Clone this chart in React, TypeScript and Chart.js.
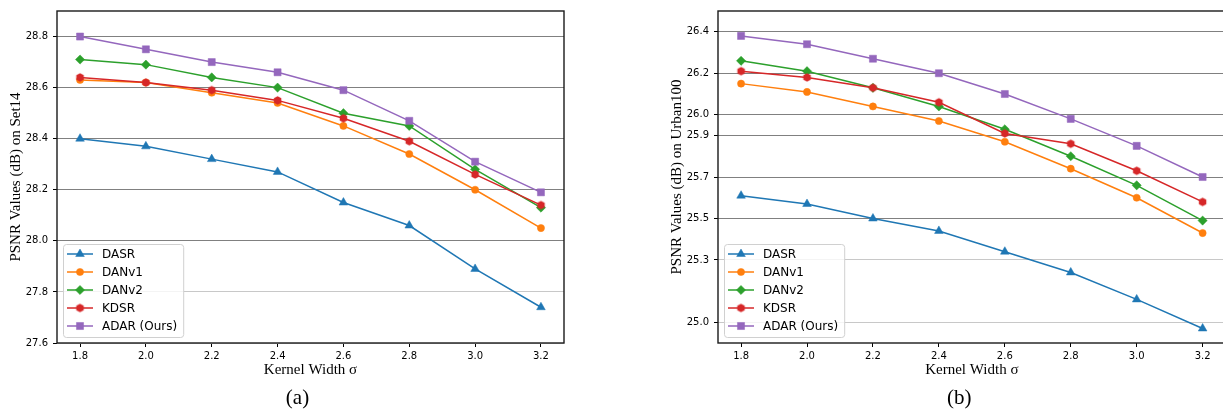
import React, { useEffect, useRef } from "react";
import { Chart, registerables } from "chart.js";
import { drawPoint } from "chart.js/helpers";

Chart.register(...registerables);

// ---------------- data ----------------
const kernelWidths = [1.8, 2.0, 2.2, 2.4, 2.6, 2.8, 3.0, 3.2];
const seriesNames = ["DASR", "DANv1", "DANv2", "KDSR", "ADAR (Ours)"];

const set14DASR = [28.4, 28.37, 28.32, 28.27, 28.15, 28.06, 27.89, 27.74];
const set14DANv1 = [28.63, 28.62, 28.58, 28.54, 28.45, 28.34, 28.2, 28.05];
const set14DANv2 = [28.71, 28.69, 28.64, 28.6, 28.5, 28.45, 28.28, 28.13];
const set14KDSR = [28.64, 28.62, 28.59, 28.55, 28.48, 28.39, 28.26, 28.14];
const set14ADAR = [28.8, 28.75, 28.7, 28.66, 28.59, 28.47, 28.31, 28.19];

const urbanDASR = [25.61, 25.57, 25.5, 25.44, 25.34, 25.24, 25.11, 24.97];
const urbanDANv1 = [26.15, 26.11, 26.04, 25.97, 25.87, 25.74, 25.6, 25.43];
const urbanDANv2 = [26.26, 26.21, 26.13, 26.04, 25.93, 25.8, 25.66, 25.49];
const urbanKDSR = [26.21, 26.18, 26.13, 26.06, 25.91, 25.86, 25.73, 25.58];
const urbanADAR = [26.38, 26.34, 26.27, 26.2, 26.1, 25.98, 25.85, 25.7];

const set14YTicks = [27.6, 27.8, 28.0, 28.2, 28.4, 28.6, 28.8];
const urbanYTicks = [25.0, 25.3, 25.5, 25.7, 25.9, 26.0, 26.2, 26.4];

// ---------------- styles ----------------
const colors = ["#1f77b4", "#ff7f0e", "#2ca02c", "#d62728", "#9467bd"];

function hexagon(color: string, r: number) {
  const c = document.createElement("canvas");
  const s = Math.ceil(r * 2 + 2);
  c.width = s;
  c.height = s;
  const g = c.getContext("2d")!;
  g.fillStyle = color;
  g.beginPath();
  for (let k = 0; k < 6; k++) {
    const a = -Math.PI / 2 + (k * Math.PI) / 3;
    const px = s / 2 + r * Math.cos(a);
    const py = s / 2 + r * Math.sin(a);
    if (k === 0) g.moveTo(px, py);
    else g.lineTo(px, py);
  }
  g.closePath();
  g.fill();
  return c;
}

const markerStyles: any[] = ["triangle", "circle", "rectRot", null, "rect"];
const markerRadius = [5, 3.6, 4.6, 4, 5];

function makeDatasets(series: number[][]) {
  return series.map((vals, i) => ({
    label: seriesNames[i],
    data: vals.map((y, j) => ({ x: kernelWidths[j], y })),
    borderColor: colors[i],
    backgroundColor: colors[i],
    pointBackgroundColor: colors[i],
    pointBorderColor: colors[i],
    pointBorderWidth: 0.5,
    pointStyle: markerStyles[i] ?? hexagon(colors[i], 4.3),
    pointRadius: markerRadius[i],
    borderWidth: 1.5,
    tension: 0,
    order: series.length - i,
  }));
}

const legendBox = {
  id: "legendBox",
  afterDatasetsDraw(chart: any) {
    const { ctx, chartArea } = chart;
    const ds = chart.data.datasets;
    ctx.save();
    ctx.font = '12px "DejaVu Sans"';
    const rowH = 18;
    const maxW = Math.max(...ds.map((d: any) => ctx.measureText(d.label).width));
    const w = 39 + maxW + 6;
    const h = 10 + (ds.length - 1) * rowH + 11;
    const x = chartArea.left + 6;
    const y = chartArea.bottom - 6 - h;
    ctx.beginPath();
    (ctx as any).roundRect(x + 0.5, y + 0.5, w, h, 3);
    ctx.fillStyle = "rgba(255,255,255,0.8)";
    ctx.fill();
    ctx.strokeStyle = "#d0d0d0";
    ctx.lineWidth = 1;
    ctx.stroke();
    ds.forEach((d: any, i: number) => {
      const cy = y + 10 + i * rowH;
      ctx.beginPath();
      ctx.strokeStyle = d.borderColor;
      ctx.lineWidth = 1.5;
      ctx.moveTo(x + 4, cy);
      ctx.lineTo(x + 30, cy);
      ctx.stroke();
      ctx.fillStyle = d.borderColor;
      ctx.strokeStyle = d.borderColor;
      ctx.lineWidth = 0.5;
      drawPoint(ctx, { pointStyle: d.pointStyle, radius: d.pointRadius, rotation: 0, borderWidth: 0.5 } as any, x + 17, cy);
      ctx.fillStyle = "#000";
      ctx.textBaseline = "middle";
      ctx.textAlign = "left";
      ctx.fillText(d.label, x + 39, cy + 0.5);
    });
    ctx.restore();
  },
};

const frame = {
  id: "frame",
  afterDraw(chart: any) {
    const { ctx, chartArea } = chart;
    ctx.save();
    ctx.strokeStyle = "#1a1a1a";
    ctx.lineWidth = 1.4;
    ctx.strokeRect(chartArea.left, chartArea.top, chartArea.right - chartArea.left, chartArea.bottom - chartArea.top);
    ctx.restore();
  },
};

type PanelProps = {
  series: number[][];
  yTicks: number[];
  yMin: number;
  yMax: number;
  darkFrom: number;
  yTitle: string;
  width: number;
  padLeft: number;
  padRight: number;
  yAxisWidth: number;
  yTitlePad: number;
};

function Panel(p: PanelProps) {
  const ref = useRef<HTMLCanvasElement>(null);
  useEffect(() => {
    const chart = new Chart(ref.current!, {
      type: "line",
      data: { datasets: makeDatasets(p.series) as any },
      options: {
        responsive: false,
        animation: false,
        devicePixelRatio: 1,
        layout: { padding: { top: 7, right: p.padRight, bottom: 25, left: p.padLeft } },
        plugins: { legend: { display: false }, tooltip: { enabled: false } },
        scales: {
          x: {
            type: "linear",
            min: 1.73,
            max: 3.27,
            afterBuildTicks: (s: any) => {
              s.ticks = kernelWidths.map((v) => ({ value: v }));
            },
            afterFit: (s: any) => {
              s.height = 44;
            },
            grid: { drawOnChartArea: false, tickLength: 4, tickColor: "#000", tickWidth: 1 },
            border: { display: false },
            ticks: {
              color: "#000",
              padding: 3,
              font: { family: "DejaVu Sans", size: 10 },
              callback: (v: any) => Number(v).toFixed(1),
            },
            title: {
              display: true,
              text: "Kernel Width σ",
              color: "#000",
              font: { family: "Liberation Serif", size: 15 },
              padding: { top: 0, bottom: 8 },
            },
          },
          y: {
            type: "linear",
            min: p.yMin,
            max: p.yMax,
            afterBuildTicks: (s: any) => {
              s.ticks = p.yTicks.map((v) => ({ value: v }));
            },
            afterFit: (s: any) => {
              s.width = p.yAxisWidth;
            },
            grid: {
              color: (c: any) => (c.tick && c.tick.value >= p.darkFrom - 1e-6 ? "#808080" : "#c8c8c8"),
              lineWidth: 1,
              tickLength: 4,
              tickColor: "#000",
              tickWidth: 1,
            },
            border: { display: false },
            ticks: {
              color: "#000",
              padding: 5,
              font: { family: "DejaVu Sans", size: 10 },
              callback: (v: any) => Number(v).toFixed(1),
            },
            title: {
              display: true,
              text: p.yTitle,
              color: "#000",
              font: { family: "Liberation Serif", size: 15 },
              padding: { top: p.yTitlePad, bottom: 0 },
            },
          },
        },
      },
      plugins: [legendBox, frame],
    });
    return () => chart.destroy();
  }, []);
  return <canvas ref={ref} width={p.width} height={412} style={{ width: p.width, height: 412, display: "block" }} />;
}

const captionStyle: React.CSSProperties = {
  position: "absolute",
  top: 387,
  width: 100,
  textAlign: "center",
  fontFamily: "Liberation Serif",
  fontSize: 21,
  lineHeight: "21px",
  color: "#000",
};

export default function App() {
  return (
    <div style={{ position: "absolute", left: 0, top: 0, width: 1223, height: 412, overflow: "hidden", background: "#fff" }}>
      <div style={{ position: "absolute", left: 0, top: 0 }}>
        <Panel
          series={[set14DASR, set14DANv1, set14DANv2, set14KDSR, set14ADAR]}
          yTicks={set14YTicks}
          yMin={27.6}
          yMax={28.9}
          darkFrom={28.0}
          yTitle="PSNR Values (dB) on Set14"
          width={600}
          padLeft={0}
          padRight={36}
          yAxisWidth={57}
          yTitlePad={7}
        />
      </div>
      <div style={{ position: "absolute", left: 610, top: 0 }}>
        <Panel
          series={[urbanDASR, urbanDANv1, urbanDANv2, urbanKDSR, urbanADAR]}
          yTicks={urbanYTicks}
          yMin={24.9}
          yMax={26.5}
          darkFrom={25.5}
          yTitle="PSNR Values (dB) on Urban100"
          width={650}
          padLeft={50}
          padRight={34.3}
          yAxisWidth={58}
          yTitlePad={8}
        />
      </div>
      <div style={{ ...captionStyle, left: 247.5 }}>(a)</div>
      <div style={{ ...captionStyle, left: 909.3 }}>(b)</div>
    </div>
  );
}
